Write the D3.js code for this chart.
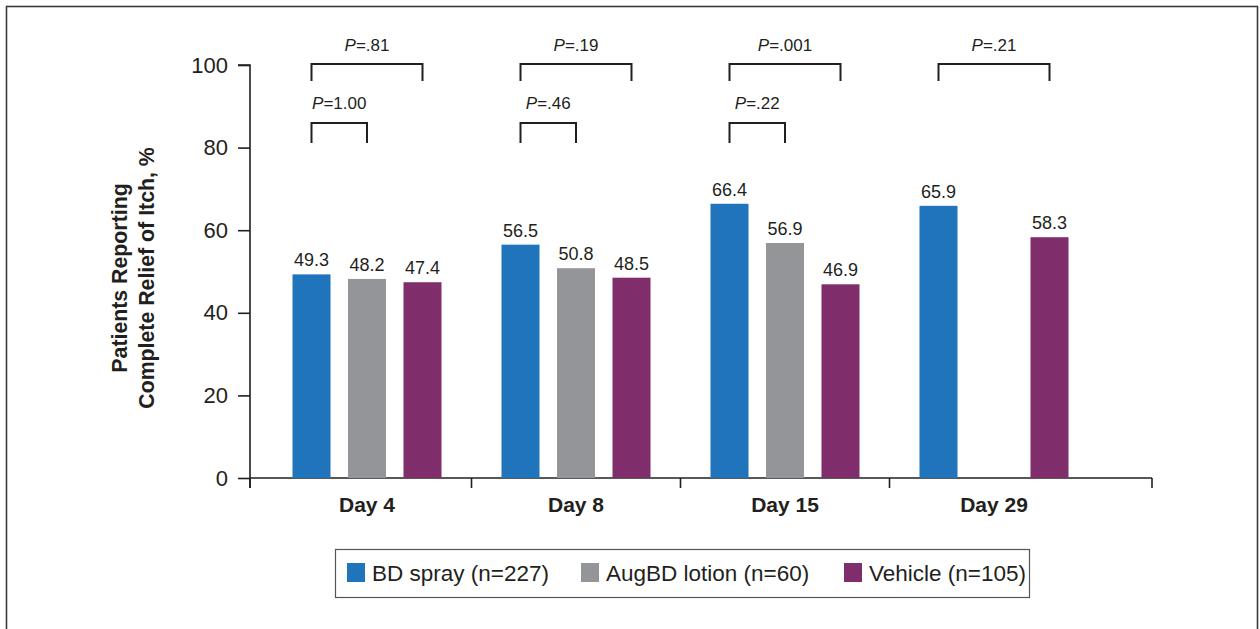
<!DOCTYPE html>
<html>
<head>
<meta charset="utf-8">
<script src="https://cdn.jsdelivr.net/npm/d3@7"></script>
<style>
  body { margin: 0; background: #fff; }
  svg text { font-family: "Liberation Sans", Arial, Helvetica, sans-serif; fill: #231f20; }
</style>
</head>
<body>
<div class="chart"></div>
<script>
var days = ["Day 4", "Day 8", "Day 15", "Day 29"];
var seriesNames = ["BD spray (n=227)", "AugBD lotion (n=60)", "Vehicle (n=105)"];
var bdSpray = [49.3, 56.5, 66.4, 65.9];
var augBdLotion = [48.2, 50.8, 56.9, null];
var vehicle = [47.4, 48.5, 46.9, 58.3];
var pOuter = [".81", ".19", ".001", ".21"];   // BD spray vs Vehicle
var pInner = ["1.00", ".46", ".22", null];    // BD spray vs AugBD lotion
var yTicks = [0, 20, 40, 60, 80, 100];

var colors = ["#1f74bb", "#939598", "#7f2d6b"];

var svgWidth = 1260;
var svgHeight = 629;

var svg = d3.select(".chart")
  .append("svg")
  .attr("width", svgWidth)
  .attr("height", svgHeight);

// outer frame
svg.append("rect")
  .attr("x", 6.5).attr("y", 6.5)
  .attr("width", 1251).attr("height", 640)
  .attr("fill", "none")
  .attr("stroke", "#3a3a3a")
  .attr("stroke-width", 1.6);

var x = d3.scaleBand()
  .domain(days)
  .range([262.5, 1098.5]);

var xInner = d3.scalePoint()
  .domain(seriesNames)
  .range([-55.5, 55.5]);

var y = d3.scaleLinear()
  .domain([0, 100])
  .range([478, 65]);

var barWidth = 38;

// build rows from the arrays
var seriesValues = [bdSpray, augBdLotion, vehicle];
var bars = [];
days.forEach(function(day, i) {
  seriesNames.forEach(function(name, j) {
    var v = seriesValues[j][i];
    if (v != null) bars.push({day: day, series: name, idx: j, value: v});
  });
});

// y axis
var leftAxis = d3.axisLeft(y)
  .tickValues(yTicks)
  .tickSize(12)
  .tickPadding(10);

var yAxisG = svg.append("g")
  .attr("transform", "translate(250,0)")
  .call(leftAxis);
yAxisG.select(".domain").attr("d", "M-12,65H0V488").attr("stroke", "#231f20").attr("stroke-width", 1.6);
yAxisG.selectAll(".tick line").attr("stroke", "#231f20").attr("stroke-width", 1.6);
yAxisG.selectAll(".tick text")
  .style("font-size", "22px")
  .attr("fill", "#231f20");

// x axis line and separator ticks
var sepX = [250, x("Day 8"), x("Day 15"), x("Day 29"), 1152];
svg.append("line")
  .attr("x1", 250).attr("x2", 1152)
  .attr("y1", y(0)).attr("y2", y(0))
  .attr("stroke", "#231f20").attr("stroke-width", 1.6);
svg.selectAll(".sep")
  .data(sepX)
  .enter()
  .append("line")
  .attr("x1", d => d).attr("x2", d => d)
  .attr("y1", y(0)).attr("y2", y(0) + 10)
  .attr("stroke", "#231f20").attr("stroke-width", 1.6);

svg.selectAll(".dayLabel")
  .data(days)
  .enter()
  .append("text")
  .attr("x", d => x(d) + x.bandwidth() / 2)
  .attr("y", 512)
  .attr("text-anchor", "middle")
  .style("font-size", "21px")
  .style("font-weight", "bold")
  .text(d => d);

// bars
var center = d => x(d.day) + x.bandwidth() / 2 + xInner(d.series);
svg.selectAll(".bar")
  .data(bars)
  .enter()
  .append("rect")
  .attr("x", d => center(d) - barWidth / 2)
  .attr("y", d => y(d.value))
  .attr("width", barWidth)
  .attr("height", d => y(0) - y(d.value))
  .attr("fill", d => colors[d.idx]);

svg.selectAll(".valLabel")
  .data(bars)
  .enter()
  .append("text")
  .attr("x", d => center(d))
  .attr("y", d => y(d.value) - 8)
  .attr("text-anchor", "middle")
  .style("font-size", "18px")
  .text(d => d.value.toFixed(1));

// significance brackets
function bracket(day, s1, s2, top, bottom, p, labelY) {
  var cx = x(day) + x.bandwidth() / 2;
  var x1 = cx + xInner(s1), x2 = cx + xInner(s2);
  svg.append("path")
    .attr("d", `M${x1},${bottom}V${top}H${x2}V${bottom}`)
    .attr("fill", "none")
    .attr("stroke", "#231f20")
    .attr("stroke-width", 2);
  var t = svg.append("text")
    .attr("x", (x1 + x2) / 2)
    .attr("y", labelY)
    .attr("text-anchor", "middle")
    .style("font-size", "17px");
  t.append("tspan").style("font-style", "italic").text("P");
  t.append("tspan").text("=" + p);
}

days.forEach(function(day, i) {
  bracket(day, seriesNames[0], seriesNames[2], 64, 81, pOuter[i], 51);
  if (pInner[i] != null) {
    bracket(day, seriesNames[0], seriesNames[1], 123, 143, pInner[i], 109);
  }
});

// y axis title
var title = svg.append("text")
  .attr("transform", "translate(127,278) rotate(-90)")
  .attr("text-anchor", "middle")
  .style("font-size", "21.3px")
  .style("font-weight", "bold");
title.append("tspan").attr("x", 0).attr("dy", 0).text("Patients Reporting");
title.append("tspan").attr("x", 0).attr("dy", 27).text("Complete Relief of Itch, %");

// legend
svg.append("rect")
  .attr("x", 335.5).attr("y", 549.5)
  .attr("width", 694).attr("height", 48)
  .attr("fill", "none")
  .attr("stroke", "#555")
  .attr("stroke-width", 1.2);

var legendX = [347, 581, 844];
var legend = svg.selectAll(".legendItem")
  .data(seriesNames)
  .enter()
  .append("g")
  .attr("transform", (d, i) => `translate(${legendX[i]},0)`);

legend.append("rect")
  .attr("x", 0).attr("y", 563)
  .attr("width", 18).attr("height", 19)
  .attr("fill", (d, i) => colors[i]);

legend.append("text")
  .attr("x", 25)
  .attr("y", 581)
  .style("font-size", "22.5px")
  .text(d => d);
</script>
</body>
</html>
